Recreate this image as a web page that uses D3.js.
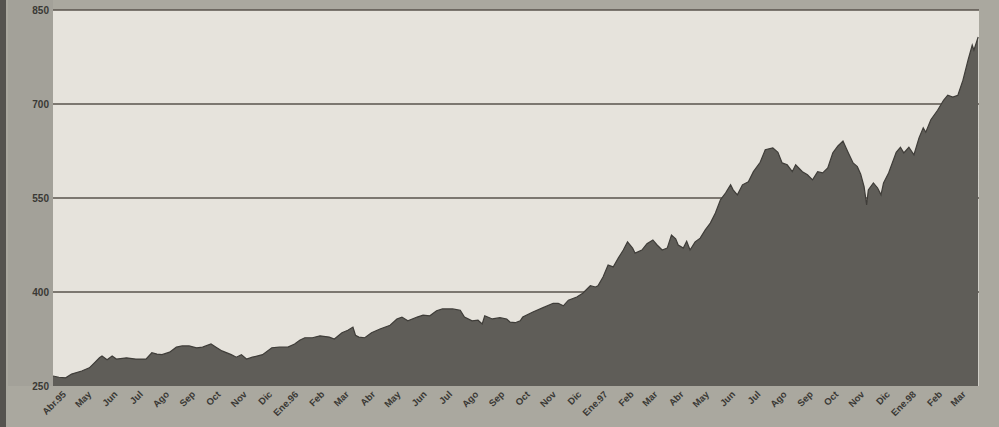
<!DOCTYPE html>
<html>
<head>
<meta charset="utf-8">
<script src="https://cdn.jsdelivr.net/npm/d3@7"></script>
<style>
  html, body { margin: 0; padding: 0; background: #aaa89f; }
  svg { display: block; }
</style>
</head>
<body>
<svg id="chart" width="999" height="427"></svg>
<script>
// ---- data ----
const dates = [
  "1995-04-01","1995-04-08","1995-04-16","1995-04-23","1995-05-05","1995-05-14","1995-05-20","1995-05-26","1995-05-29",
  "1995-06-04","1995-06-10","1995-06-15","1995-06-27","1995-07-08","1995-07-20","1995-07-27","1995-08-02","1995-08-08",
  "1995-08-17","1995-08-25","1995-09-01","1995-09-09","1995-09-18","1995-09-25","1995-10-05","1995-10-11","1995-10-18",
  "1995-10-29","1995-11-04","1995-11-10","1995-11-16","1995-11-23","1995-12-05","1995-12-16","1995-12-25","1996-01-04",
  "1996-01-12","1996-01-18","1996-01-24","1996-02-02","1996-02-11","1996-02-22","1996-02-28","1996-03-08","1996-03-15",
  "1996-03-21","1996-03-24","1996-03-28","1996-04-04","1996-04-12","1996-04-22","1996-05-04","1996-05-12","1996-05-18",
  "1996-05-25","1996-06-05","1996-06-12","1996-06-20","1996-06-28","1996-07-05","1996-07-17","1996-07-26","1996-07-31",
  "1996-08-09","1996-08-16","1996-08-21","1996-08-24","1996-09-02","1996-09-11","1996-09-19","1996-09-23","1996-09-29",
  "1996-10-05","1996-10-08","1996-10-20","1996-11-01","1996-11-13","1996-11-19","1996-11-25","1996-12-01","1996-12-11",
  "1996-12-18","1996-12-27","1997-01-02","1997-01-05","1997-01-11","1997-01-17","1997-01-23","1997-01-29","1997-02-04",
  "1997-02-09","1997-02-15","1997-02-18","1997-02-26","1997-03-04","1997-03-11","1997-03-16","1997-03-22","1997-03-28",
  "1997-04-02","1997-04-07","1997-04-10","1997-04-16","1997-04-20","1997-04-24","1997-04-30","1997-05-06","1997-05-12",
  "1997-05-18","1997-05-24","1997-05-30","1997-06-05","1997-06-11","1997-06-14","1997-06-19","1997-06-25","1997-07-02",
  "1997-07-08","1997-07-16","1997-07-22","1997-07-31","1997-08-06","1997-08-11","1997-08-17","1997-08-23","1997-08-27",
  "1997-09-04","1997-09-10","1997-09-16","1997-09-22","1997-09-28","1997-10-04","1997-10-10","1997-10-16","1997-10-22",
  "1997-10-28","1997-11-03","1997-11-08","1997-11-12","1997-11-16","1997-11-19","1997-11-21","1997-11-27","1997-12-02",
  "1997-12-06","1997-12-09","1997-12-15","1997-12-24","1997-12-29","1998-01-02","1998-01-08","1998-01-14","1998-01-20",
  "1998-01-25","1998-01-28","1998-02-03","1998-02-11","1998-02-18","1998-02-23","1998-03-01","1998-03-07","1998-03-13",
  "1998-03-19","1998-03-24","1998-03-26","1998-03-31"
];
const values = [
  266,264,263,269,274,279,287,295,298,
  292,298,293,295,293,293,303,301,300,
  304,312,314,314,311,312,317,312,306,
  300,296,300,293,296,300,311,312,312,
  317,323,327,327,330,328,325,335,339,
  344,331,328,327,335,341,347,357,360,
  354,360,363,362,370,373,373,371,360,
  354,355,349,362,357,359,357,352,351,
  354,360,368,375,382,382,378,387,392,
  398,410,408,410,424,443,440,454,467,
  480,470,462,467,477,483,475,467,470,
  491,485,475,470,481,467,480,486,499,
  510,526,547,558,571,563,555,571,576,
  592,607,627,630,623,606,603,592,603,
  592,587,579,592,590,598,622,633,641,
  623,606,600,588,568,539,563,574,566,
  555,574,590,623,631,622,631,619,646,
  662,655,675,690,706,714,711,714,738,
  770,794,786,807
];
const yTicks = [250, 400, 550, 700, 850];
const monthLabels = [
  "Abr.95","May","Jun","Jul","Ago","Sep","Oct","Nov","Dic",
  "Ene.96","Feb","Mar","Abr","May","Jun","Jul","Ago","Sep","Oct","Nov","Dic",
  "Ene.97","Feb","Mar","Abr","May","Jun","Jul","Ago","Sep","Oct","Nov","Dic",
  "Ene.98","Feb","Mar"
];

// ---- drawing ----
(function () {
const svg = d3.select("#chart");
const W = 999, H = 427;
const pLeft = 53, pRight = 979, pTop = 10, pBottom = 386;
const parse = d3.timeParse("%Y-%m-%d");
const startDate = parse("1995-04-01"), endDate = parse("1998-04-01");

const x = d3.scaleTime().domain([startDate, endDate]).range([pLeft, pRight]);
const y = d3.scaleLinear().domain([250, 850]).range([pBottom, pTop]);

const data = dates.map((d, i) => ({ date: parse(d), value: values[i] }));

// background panels
svg.append("rect").attr("x", 0).attr("y", 0).attr("width", W).attr("height", H).attr("fill", "#aaa89f");
svg.append("rect").attr("x", 8).attr("y", 0).attr("width", pLeft - 8).attr("height", pBottom).attr("fill", "#a3a199");
svg.append("rect").attr("x", 0).attr("y", 0).attr("width", 6).attr("height", H).attr("fill", "#55534f");
svg.append("rect").attr("x", pLeft).attr("y", pTop).attr("width", pRight - pLeft).attr("height", pBottom - pTop).attr("fill", "#e6e3dc");

// gridlines
svg.append("g").selectAll("line").data(yTicks.filter(t => t > 250)).join("line")
  .attr("x1", pLeft).attr("x2", pRight)
  .attr("y1", d => y(d)).attr("y2", d => y(d))
  .attr("stroke", "#58534c").attr("stroke-width", 1.6);

// area
const area = d3.area()
  .x(d => x(d.date))
  .y0(y(250))
  .y1(d => y(d.value));
svg.append("path").datum(data)
  .attr("d", area)
  .attr("fill", "#5f5d58");
const line = d3.line().x(d => x(d.date)).y(d => y(d.value));
svg.append("path").datum(data)
  .attr("d", line)
  .attr("fill", "none").attr("stroke", "#3f3d39").attr("stroke-width", 1.2);

// y axis labels
const yAxis = d3.axisLeft(y).tickValues(yTicks).tickSize(0).tickPadding(4);
const gy = svg.append("g").attr("transform", `translate(${pLeft},0)`).call(yAxis);
gy.select(".domain").remove();
gy.selectAll("text")
  .attr("fill", "#3a3935")
  .style("font-family", "'Liberation Sans', Arial, sans-serif")
  .style("font-size", "10px")
  .style("font-weight", "bold");

// x axis month labels (centred in month)
const monthMids = monthLabels.map((m, i) => d3.timeDay.offset(d3.timeMonth.offset(startDate, i), 15));
svg.append("g").selectAll("text").data(monthLabels).join("text")
  .attr("transform", (d, i) => `translate(${x(monthMids[i]) + 1},${pBottom + 9}) rotate(-45)`)
  .attr("text-anchor", "end")
  .attr("fill", "#3a3935")
  .style("font-family", "'Liberation Sans', Arial, sans-serif")
  .style("font-size", "9.5px")
  .style("font-weight", "bold")
  .text(d => d);
})();
</script>
</body>
</html>
